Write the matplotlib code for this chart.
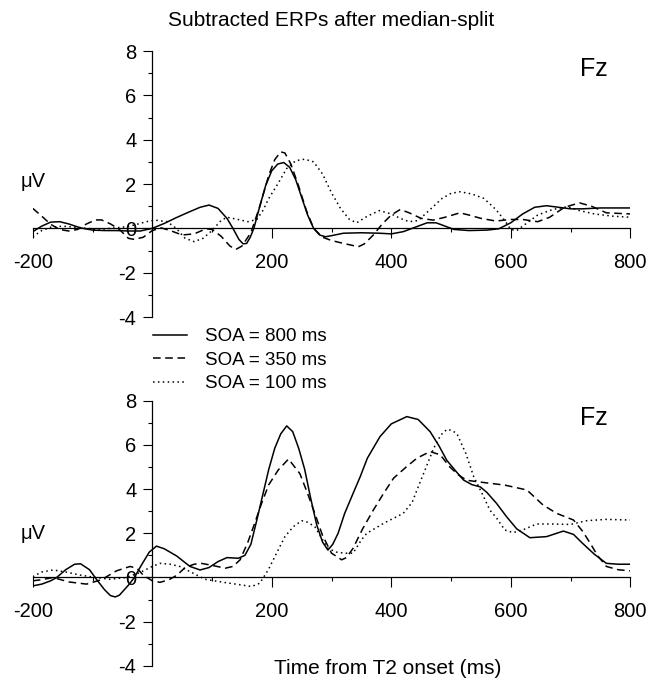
import numpy as np
import matplotlib
matplotlib.use("Agg")
import matplotlib.pyplot as plt
from matplotlib.ticker import FixedLocator

plt.rcParams['font.family'] = ['Liberation Sans', 'DejaVu Sans']

# ---- top panel: times (ms) and amplitudes (uV)
top_800_t = [-200, -185, -170, -155, -140, -120, -100, -80, -60, -40, -20, 0, 20, 40, 60, 80, 95, 110,
             125, 135, 145, 152, 158, 164, 170, 180, 190, 200, 210, 220, 230, 240, 250, 260, 270, 280,
             290, 300, 320, 350, 380, 400, 420, 440, 460, 475, 490, 505, 530, 560, 580, 600, 620, 640,
             660, 680, 700, 720, 750, 800]
top_800_v = [-0.15, 0.1, 0.28, 0.3, 0.2, 0.02, -0.08, -0.1, -0.1, -0.12, -0.12, 0.0, 0.22, 0.48, 0.72,
             0.95, 1.05, 0.9, 0.45, 0.0, -0.5, -0.7, -0.68, -0.4, 0.0, 1.0, 1.95, 2.6, 2.9, 2.97, 2.75,
             2.2, 1.4, 0.6, 0.0, -0.3, -0.38, -0.33, -0.22, -0.2, -0.22, -0.25, -0.15, 0.05, 0.25, 0.25,
             0.1, -0.05, -0.1, -0.08, -0.02, 0.25, 0.65, 0.95, 1.02, 0.95, 0.88, 0.88, 0.92, 0.92]

top_350_t = [-200, -185, -170, -155, -140, -125, -110, -95, -85, -70, -55, -40, -30, -15, 0, 15, 30, 50,
             70, 90, 100, 115, 130, 140, 150, 165, 180, 195, 205, 215, 222, 232, 245, 258, 270, 285,
             300, 320, 345, 355, 370, 385, 400, 415, 430, 450, 470, 490, 515, 530, 550, 575, 600, 620,
             645, 665, 690, 715, 735, 760, 800]
top_350_v = [0.9, 0.55, 0.18, -0.05, -0.12, -0.05, 0.2, 0.38, 0.38, 0.2, -0.05, -0.45, -0.5, -0.4, -0.1,
             0.02, -0.1, -0.3, -0.25, -0.02, -0.05, -0.35, -0.8, -0.95, -0.8, -0.2, 1.0, 2.4, 3.1, 3.45,
             3.4, 2.9, 1.9, 0.8, 0.0, -0.4, -0.55, -0.68, -0.83, -0.7, -0.3, 0.2, 0.6, 0.85, 0.7, 0.45,
             0.37, 0.5, 0.7, 0.6, 0.45, 0.33, 0.4, 0.4, 0.3, 0.5, 0.95, 1.15, 1.0, 0.7, 0.65]

top_100_t = [-200, -185, -170, -150, -130, -110, -90, -70, -50, -30, -10, 5, 25, 40, 55, 70, 85, 100,
             115, 125, 140, 160, 175, 185, 195, 210, 225, 240, 255, 270, 285, 300, 315, 330, 342, 360,
             380, 400, 415, 430, 445, 465, 485, 500, 515, 535, 555, 575, 590, 600, 610, 625, 645, 670,
             695, 715, 740, 770, 800]
top_100_v = [-0.38, -0.1, 0.05, 0.1, 0.05, 0.0, -0.05, 0.0, 0.05, 0.15, 0.3, 0.37, 0.3, 0.0, -0.45,
             -0.6, -0.45, -0.1, 0.35, 0.5, 0.42, 0.3, 0.4, 0.8, 1.35, 2.0, 2.7, 3.05, 3.12, 3.0, 2.45,
             1.6, 0.9, 0.4, 0.25, 0.55, 0.8, 0.65, 0.45, 0.3, 0.35, 0.85, 1.35, 1.58, 1.65, 1.55, 1.35,
             0.85, 0.35, -0.05, -0.1, 0.2, 0.6, 0.85, 0.98, 0.8, 0.65, 0.55, 0.5]

# ---- bottom panel
bot_800_t = [-200, -185, -170, -160, -145, -130, -120, -105, -93, -80, -70, -62, -55, -40, -30, -18, -5,
             7, 20, 41, 63, 80, 95, 110, 125, 144, 155, 165, 175, 185, 195, 205, 215, 225, 235, 245,
             255, 265, 275, 285, 294, 302, 311, 322, 336, 348, 360, 381, 400, 426, 445, 465, 480, 493,
             510, 521, 535, 549, 560, 576, 593, 610, 632, 660, 688, 705, 720, 740, 760, 780, 800]
bot_800_v = [-0.38, -0.3, -0.15, 0.0, 0.35, 0.6, 0.62, 0.35, -0.1, -0.55, -0.82, -0.88, -0.8, -0.35,
             0.0, 0.57, 1.15, 1.42, 1.3, 0.97, 0.5, 0.34, 0.45, 0.72, 0.9, 0.87, 1.0, 1.5, 2.6, 3.75,
             4.9, 5.85, 6.5, 6.86, 6.6, 5.85, 4.9, 3.6, 2.4, 1.6, 1.24, 1.5, 2.0, 2.9, 3.8, 4.56, 5.4,
             6.37, 6.95, 7.28, 7.15, 6.6, 5.95, 5.3, 4.75, 4.41, 4.2, 4.1, 3.85, 3.36, 2.75, 2.2, 1.8,
             1.85, 2.1, 1.95, 1.55, 1.05, 0.64, 0.6, 0.6]

bot_350_t = [-200, -185, -166, -140, -110, -85, -60, -37, -25, -15, 0, 13, 28, 41, 55, 70, 82, 100, 122,
             135, 147, 160, 172, 183, 195, 211, 228, 247, 260, 272, 285, 300, 317, 325, 336, 352, 370,
             387, 404, 425, 443, 465, 482, 498, 512, 526, 554, 590, 627, 654, 677, 705, 720, 733, 745,
             760, 780, 800]
bot_350_v = [-0.15, -0.1, 0.0, -0.2, -0.3, -0.1, 0.3, 0.5, 0.4, 0.1, -0.15, -0.22, -0.1, 0.1, 0.45, 0.6,
             0.64, 0.55, 0.42, 0.5, 0.8, 1.6, 2.5, 3.36, 4.2, 4.87, 5.36, 4.7, 3.8, 2.9, 1.9, 1.1, 0.8,
             0.9, 1.32, 2.2, 3.05, 3.8, 4.5, 5.0, 5.4, 5.7, 5.55, 5.0, 4.65, 4.4, 4.3, 4.18, 3.96, 3.28,
             2.9, 2.6, 2.1, 1.55, 1.0, 0.5, 0.35, 0.3]

bot_100_t = [-200, -185, -166, -145, -121, -95, -71, -43, -21, 0, 13, 30, 46, 63, 88, 122, 145, 166, 180,
             194, 208, 222, 236, 250, 260, 272, 283, 294, 308, 322, 336, 350, 359, 387, 420, 435, 443,
             457, 471, 483, 493, 502, 510, 525, 538, 552, 565, 576, 590, 604, 620, 643, 670, 700, 727,
             760, 800]
bot_100_v = [0.04, 0.25, 0.34, 0.25, 0.11, 0.0, -0.08, 0.0, 0.22, 0.5, 0.64, 0.6, 0.5, 0.27, -0.08,
             -0.23, -0.32, -0.41, -0.26, 0.34, 1.1, 1.85, 2.3, 2.57, 2.5, 2.3, 1.8, 1.32, 1.15, 1.1, 1.1,
             1.7, 2.0, 2.45, 2.9, 3.4, 3.96, 4.9, 5.85, 6.45, 6.7, 6.65, 6.5, 5.6, 4.56, 3.8, 3.05, 2.7,
             2.15, 2.03, 2.15, 2.42, 2.42, 2.4, 2.57, 2.63, 2.6]

labels = ['SOA = 800 ms', 'SOA = 350 ms', 'SOA = 100 ms']
styles = [dict(ls='-'), dict(ls=(0, (5, 3))), dict(ls=(0, (1, 2.2)))]

x_major = [-200, 200, 400, 600, 800]
x_minor = [-100, 100, 300, 500, 700]
y_major = [-4, -2, 0, 2, 4, 6, 8]
y_minor = [-3, -1, 1, 3, 5, 7]

fig = plt.figure(figsize=(6.61, 6.81), dpi=100)
ax1 = fig.add_axes([0.0496, 0.5345, 0.9039, 0.3906])
ax2 = fig.add_axes([0.0496, 0.0222, 0.9039, 0.3894])

panels = [(ax1, [(top_800_t, top_800_v), (top_350_t, top_350_v), (top_100_t, top_100_v)], 2.1),
          (ax2, [(bot_800_t, bot_800_v), (bot_350_t, bot_350_v), (bot_100_t, bot_100_v)], 2.0)]

for ax, series, uv_y in panels:
    for (t, v), lab, st in zip(series, labels, styles):
        ax.plot(t, v, color='black', lw=1.1, label=lab, solid_joinstyle='round', **st)
    ax.set_xlim(-200, 800)
    ax.set_ylim(-4, 8)
    ax.spines['top'].set_visible(False)
    ax.spines['right'].set_visible(False)
    ax.spines['left'].set_position(('data', 0))
    ax.spines['bottom'].set_position(('data', 0))
    ax.spines['left'].set_linewidth(0.9)
    ax.spines['bottom'].set_linewidth(0.9)
    ax.xaxis.set_major_locator(FixedLocator(x_major))
    ax.xaxis.set_minor_locator(FixedLocator(x_minor))
    ax.yaxis.set_major_locator(FixedLocator(y_major))
    ax.yaxis.set_minor_locator(FixedLocator(y_minor))
    ax.set_xticklabels([str(x) for x in x_major])
    ax.set_yticklabels([str(y) for y in y_major])
    ax.tick_params(axis='x', which='major', direction='out', length=7, width=0.8, pad=11, labelsize=14.5)
    ax.tick_params(axis='x', which='minor', direction='out', length=3, width=0.8)
    ax.tick_params(axis='y', which='major', direction='out', length=6.5, width=0.8, pad=5, labelsize=14.5)
    ax.tick_params(axis='y', which='minor', direction='out', length=3, width=0.8)
    ax.text(-200, uv_y, 'μV', fontsize=14.5, ha='center', va='center')
    ax.text(739, 7.2, 'Fz', fontsize=18, ha='center', va='center')

fig.text(331 / 661, 1 - 21 / 681, 'Subtracted ERPs after median-split', fontsize=15,
         ha='center', va='center')
fig.text(388 / 661, 1 - 669 / 681, 'Time from T2 onset (ms)', fontsize=15,
         ha='center', va='center')

h, l = ax2.get_legend_handles_labels()
fig.legend(h, l, loc='upper left', bbox_to_anchor=(153 / 661, 1 - 328 / 681),
           frameon=False, fontsize=13.5, handlelength=1.8, handletextpad=0.95,
           labelspacing=0.34, borderpad=0, borderaxespad=0)

fig.savefig('out.png', dpi=100)
